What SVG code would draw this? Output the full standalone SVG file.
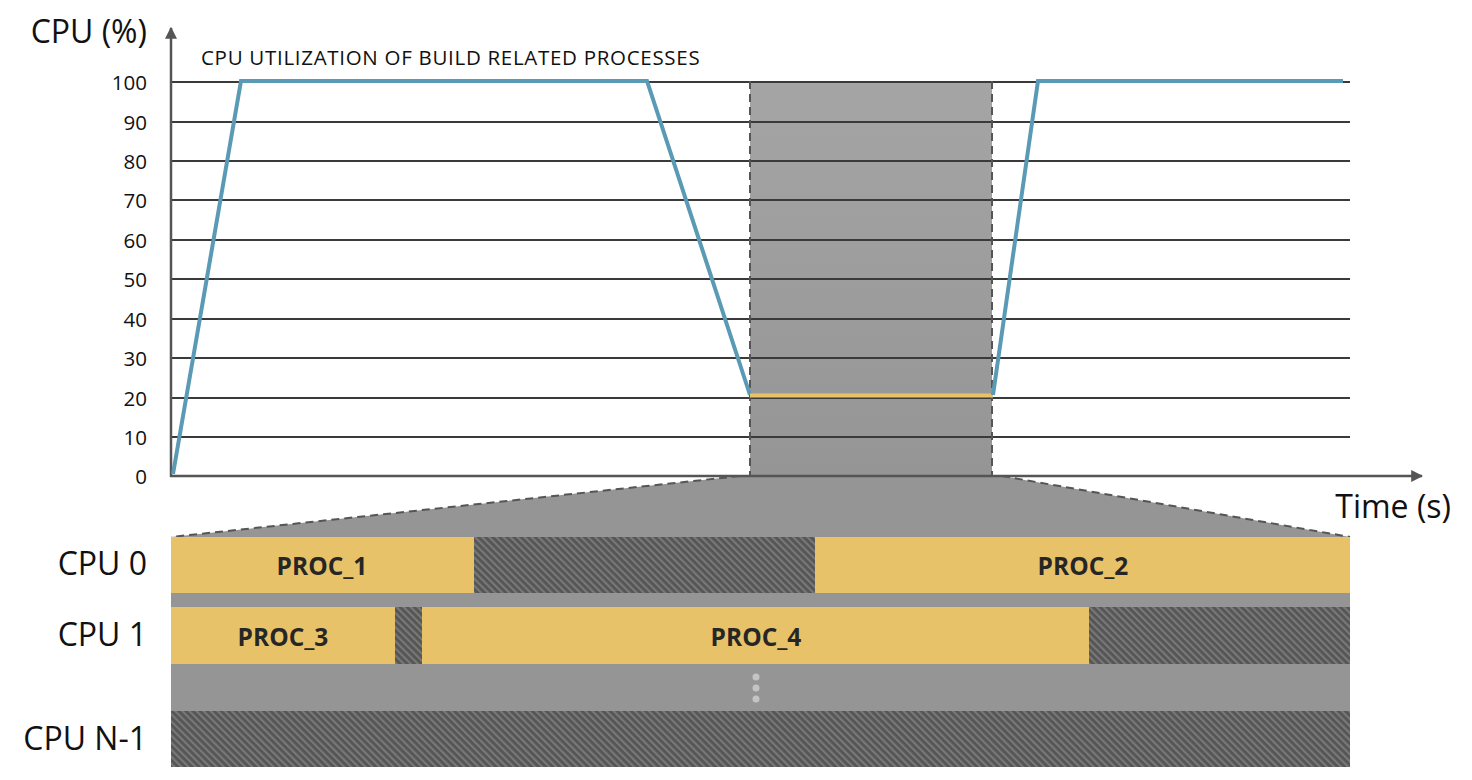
<svg xmlns="http://www.w3.org/2000/svg" width="1472" height="780" viewBox="0 0 1472 780">
<style>
text{font-family:"Open Sans","Noto Sans","Liberation Sans",sans-serif;fill:#111}
.big{font-size:32px}
.tick{font-size:20.5px;text-anchor:end}
.proc{font-size:24.5px;font-weight:bold;fill:#262626;text-anchor:middle}
.grid{stroke:#3a3a3a;stroke-width:2}
.dash{stroke:#555;stroke-width:2;stroke-dasharray:8,5;fill:none}
.cpu{stroke:#5a9ab4;stroke-width:4;fill:none;stroke-linejoin:miter}
.yel{fill:#e8c268}
.hatch{fill:url(#hp)}
</style>
<defs>
<linearGradient id="gg" x1="0" y1="0" x2="0" y2="1">
<stop offset="0" stop-color="#a5a5a5"/>
<stop offset="1" stop-color="#959595"/>
</linearGradient>
<pattern id="hp" width="5" height="5" patternUnits="userSpaceOnUse" patternTransform="rotate(-45)">
<rect width="5" height="5" fill="#555"/>
<rect width="2.2" height="5" fill="#787878"/>
</pattern>
<marker id="ar" viewBox="0 0 10 10" refX="9" refY="5" markerWidth="12" markerHeight="12" markerUnits="userSpaceOnUse" orient="auto">
<path d="M0,0 L10,5 L0,10 z" fill="#555"/>
</marker>
</defs>

<g id="zoom-region">
<rect x="750" y="81" width="242" height="395" fill="url(#gg)"/>
<polygon points="740,476 1002,476 1350,537 171,537" fill="#959595"/>
</g>

<g id="grid">
<line class="grid" x1="171" y1="82" x2="1350" y2="82"/>
<line class="grid" x1="171" y1="122" x2="1350" y2="122"/>
<line class="grid" x1="171" y1="161" x2="1350" y2="161"/>
<line class="grid" x1="171" y1="200" x2="1350" y2="200"/>
<line class="grid" x1="171" y1="240" x2="1350" y2="240"/>
<line class="grid" x1="171" y1="279" x2="1350" y2="279"/>
<line class="grid" x1="171" y1="319" x2="1350" y2="319"/>
<line class="grid" x1="171" y1="358" x2="1350" y2="358"/>
<line class="grid" x1="171" y1="398" x2="1350" y2="398"/>
<line class="grid" x1="171" y1="437" x2="1350" y2="437"/>
</g>

<g id="axes">
<line x1="171" y1="477" x2="171" y2="28" stroke="#555" stroke-width="2.5" marker-end="url(#ar)"/>
<line x1="170" y1="476" x2="1422" y2="476" stroke="#555" stroke-width="2.5" marker-end="url(#ar)"/>
</g>

<g id="labels">
<text class="big" x="147" y="43" text-anchor="end">CPU (%)</text>
<text x="201" y="65" font-size="20.5" letter-spacing="0.7">CPU UTILIZATION OF BUILD RELATED PROCESSES</text>
<text class="tick" x="147" y="90">100</text>
<text class="tick" x="147" y="130">90</text>
<text class="tick" x="147" y="169">80</text>
<text class="tick" x="147" y="208">70</text>
<text class="tick" x="147" y="248">60</text>
<text class="tick" x="147" y="287">50</text>
<text class="tick" x="147" y="327">40</text>
<text class="tick" x="147" y="366">30</text>
<text class="tick" x="147" y="406">20</text>
<text class="tick" x="147" y="445">10</text>
<text class="tick" x="147" y="484">0</text>
<text class="big" x="1451" y="518" text-anchor="end">Time (s)</text>
</g>

<g id="connectors">
<line class="dash" x1="750" y1="81" x2="750" y2="476"/>
<line class="dash" x1="992" y1="81" x2="992" y2="476"/>
<line class="dash" x1="740" y1="476" x2="171" y2="537"/>
<line class="dash" x1="1002" y1="476" x2="1350" y2="537"/>
</g>

<g id="cpu-line">
<polyline class="cpu" points="173,474 241,81 647,81 750,395"/>
<line x1="750" y1="395.5" x2="993" y2="395.5" stroke="#e8c268" stroke-width="4"/>
<polyline class="cpu" points="993,395 1038,81 1343,81"/>
</g>

<g id="cpu-rows">
<rect x="171" y="537" width="1179" height="230" fill="#959595"/>
<g id="cpu0">
<rect class="yel" x="171" y="537" width="303" height="56"/>
<rect class="hatch" x="474" y="537" width="341" height="56"/>
<rect class="yel" x="815" y="537" width="535" height="56"/>
<text class="proc" x="322" y="575">PROC_1</text>
<text class="proc" x="1083" y="575">PROC_2</text>
</g>
<g id="cpu1">
<rect class="yel" x="171" y="607" width="224" height="57"/>
<rect class="hatch" x="395" y="607" width="27" height="57"/>
<rect class="yel" x="422" y="607" width="667" height="57"/>
<rect class="hatch" x="1089" y="607" width="261" height="57"/>
<text class="proc" x="283" y="646">PROC_3</text>
<text class="proc" x="756" y="646">PROC_4</text>
</g>
<g id="dots" fill="#c4c4c4">
<circle cx="756" cy="677" r="3.5"/>
<circle cx="756" cy="688" r="3.5"/>
<circle cx="756" cy="699" r="3.5"/>
</g>
<g id="cpuN">
<rect class="hatch" x="171" y="711" width="1179" height="56"/>
</g>
<text class="big" x="147" y="575" text-anchor="end">CPU 0</text>
<text class="big" x="147" y="646" text-anchor="end">CPU 1</text>
<text class="big" x="147" y="750" text-anchor="end">CPU N-1</text>
</g>
</svg>
